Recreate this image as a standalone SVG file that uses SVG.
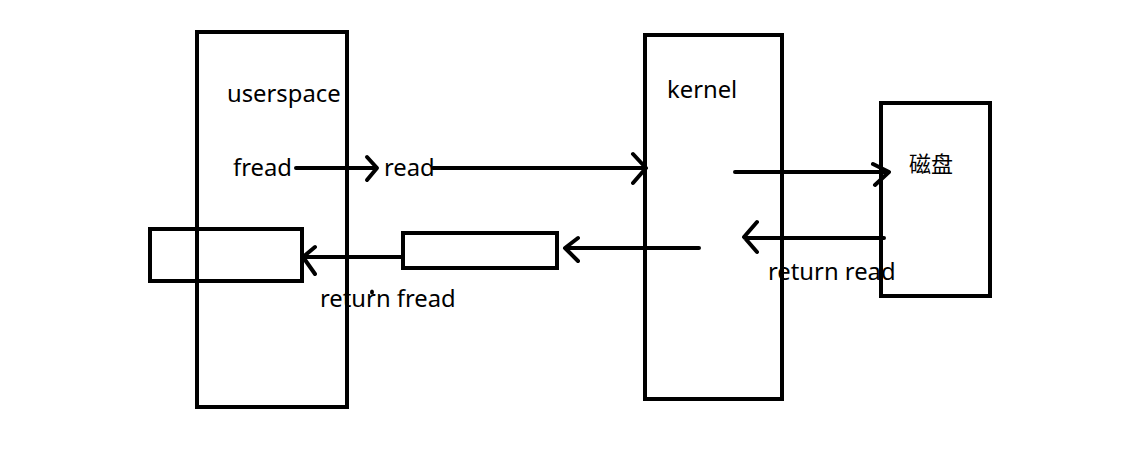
<svg xmlns="http://www.w3.org/2000/svg" width="1121" height="460" viewBox="0 0 1121 460">
<style>
.box{fill:none;stroke:#000;stroke-width:4}
.ln{fill:none;stroke:#000;stroke-width:4;stroke-linecap:round;stroke-linejoin:round}
.t{font-family:"Noto Sans","Liberation Sans",sans-serif;font-size:23.8px;fill:#000}
.c{font-family:"Noto Sans CJK SC",sans-serif;font-size:22px;fill:#000}
</style>
<rect width="1121" height="460" fill="#fff"/>
<g id="userspace">
<rect class="box" x="197" y="32" width="150" height="375"/>
<text class="t" x="227" y="102">userspace</text>
<text class="t" x="233" y="176">fread</text>
<text class="t" x="384" y="176">read</text>
</g>
<g id="kernel">
<rect class="box" x="645" y="35" width="137" height="364"/>
<text class="t" x="667" y="98">kernel</text>
</g>
<g id="disk">
<rect class="box" x="881" y="103" width="109" height="193"/>
<text class="c" x="909" y="172">磁盘</text>
</g>
<g id="buffer-left">
<rect class="box" x="150" y="229" width="152" height="52"/>
</g>
<g id="buffer-mid">
<rect class="box" x="403" y="233" width="154" height="35"/>
</g>
<g id="connectors">
<path class="ln" d="M296 168H376M367 157L377 168L367 180"/>
<path class="ln" d="M433 168H645M633 154L646 168L633 183"/>
<path class="ln" d="M735 172H888M873 164L889 172L875 185"/>
<path class="ln" d="M884 238H745M757 222L744 237L757 252"/>
<path class="ln" d="M699 248H566M578 238L565 248L578 261"/>
<path class="ln" d="M401 257H304M315 247L303 257L315 274"/>
<ellipse cx="372" cy="292" rx="2" ry="2.5" fill="#000"/>
</g>
<g id="labels">
<text class="t" x="320" y="307">return fread</text>
<text class="t" x="768" y="280">return read</text>
</g>
</svg>
